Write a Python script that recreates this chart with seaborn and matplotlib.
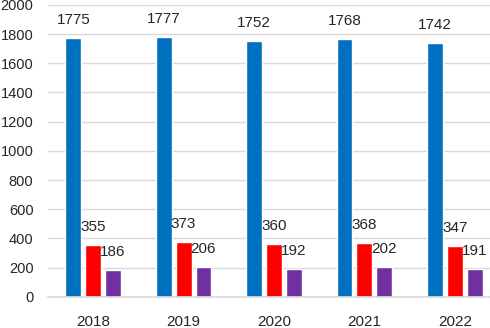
import matplotlib
matplotlib.use("Agg")
import matplotlib.pyplot as plt
import pandas as pd
import seaborn as sns

# Дані
years = ["2018", "2019", "2020", "2021", "2022"]
series_a = [1775, 1777, 1752, 1768, 1742]
series_b = [355, 373, 360, 368, 347]
series_c = [186, 206, 192, 202, 191]
colors = ["#0070C0", "#FF0000", "#7030A0"]

data = pd.DataFrame({
    "year": years * 3,
    "value": series_a + series_b + series_c,
    "series": ["a"] * 5 + ["b"] * 5 + ["c"] * 5,
})

sns.set_theme(style="white")
plt.rcParams["font.family"] = ["Liberation Sans", "DejaVu Sans"]

fig, ax = plt.subplots(figsize=(4.9, 3.28), dpi=100)
fig.subplots_adjust(left=0.098, right=1.0, top=0.985, bottom=0.095)

sns.barplot(data=data, x="year", y="value", hue="series", palette=colors,
            width=0.66, gap=0.2, saturation=1, legend=False, ax=ax)

# Підписи значень над стовпцями
for container in ax.containers:
    for bar in container:
        h = bar.get_height()
        ax.annotate(f"{h:.0f}", (bar.get_x() + bar.get_width() / 2, h),
                    xytext=(0, 13), textcoords="offset points",
                    ha="center", va="center", fontsize=11, color="#262626")

ax.set_ylim(0, 2000)
ax.set_xlim(-0.5, 4.39)
ax.set_yticks(range(0, 2001, 200))
ax.yaxis.grid(True, color="#D9D9D9", linewidth=1)
ax.set_axisbelow(True)
for side in ["left", "right", "top"]:
    ax.spines[side].set_visible(False)
ax.spines["bottom"].set_color("#D9D9D9")
ax.tick_params(axis="y", length=0, pad=10.5, labelsize=10.5, labelcolor="#262626")
ax.tick_params(axis="x", length=0, pad=13, labelsize=11, labelcolor="#262626")
ax.set_xlabel("")
ax.set_ylabel("")

plt.savefig("out.png", dpi=100)
